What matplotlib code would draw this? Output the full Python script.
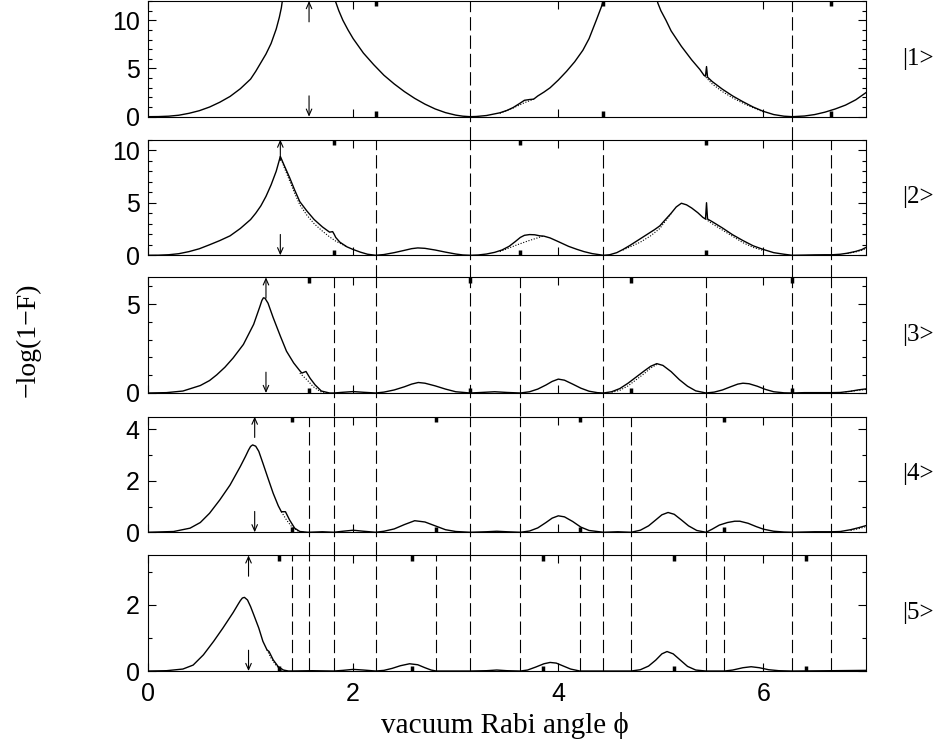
import matplotlib
matplotlib.use("Agg")
from matplotlib import pyplot as plt
from matplotlib.ticker import MultipleLocator

nan = float("nan")

# --- data ------------------------------------------------------------------
states = ["|1>", "|2>", "|3>", "|4>", "|5>"]
ylims = [12, 11, 6.5, 4.5, 3.5]
ymajor = [5, 5, 5, 2, 2]

phi_1 = [0.0, 0.1, 0.2, 0.3, 0.4, 0.5, 0.6, 0.7, 0.8, 0.9, 1.0, 1.05, 1.1, 1.15, 1.2,
         1.25, 1.28, 1.3, 1.32, nan,
         1.81, 1.83, 1.86, 1.9, 1.95, 2.0, 2.1, 2.2, 2.3, 2.4, 2.5, 2.6, 2.7, 2.8,
         2.9, 3.0, 3.07, 3.14, 3.2, 3.3, 3.43, 3.5, 3.56, 3.62, 3.67, 3.72, 3.76,
         3.8, 3.86, 3.92, 4.0, 4.08, 4.16, 4.24, 4.3, 4.37, 4.42, 4.46, nan,
         4.95, 4.97, 5.0, 5.05, 5.1, 5.2, 5.3, 5.38, 5.42, 5.435, 5.445, 5.455, 5.5,
         5.6, 5.7, 5.8, 5.9, 6.0, 6.1, 6.2, 6.28, 6.4, 6.5, 6.6, 6.7, 6.8, 6.9, 7.0]
fid_1 = [0.0, 0.01, 0.05, 0.15, 0.35, 0.62, 1.0, 1.5, 2.1, 2.9, 3.9, 4.7, 5.6, 6.5, 7.6,
         9.1, 10.3, 11.3, 12.8, nan,
         12.8, 11.9, 11.0, 10.0, 9.0, 8.1, 6.6, 5.4, 4.3, 3.4, 2.6, 1.9, 1.3, 0.8,
         0.42, 0.16, 0.05, 0.0, 0.02, 0.12, 0.4, 0.65, 0.95, 1.35, 1.7, 1.78, 1.82,
         2.15, 2.55, 3.0, 3.8, 4.7, 5.7, 6.9, 8.1, 10.0, 11.4, 12.8, nan,
         12.8, 11.8, 11.0, 10.0, 8.9, 7.3, 5.9, 4.9, 4.3, 4.2, 5.2, 4.1, 3.65,
         2.85, 2.15, 1.55, 1.0, 0.55, 0.22, 0.05, 0.0, 0.07, 0.22, 0.47, 0.8, 1.2, 1.75, 2.5]
dphi_1 = [3.43, 3.56, 3.62, 3.67, 3.72, 3.76, nan,
          5.42, 5.5, 5.6, 5.7, 5.8, 5.9, 6.0]
dfid_1 = [0.35, 0.9, 1.2, 1.45, 1.65, 1.82, nan,
          4.3, 3.4, 2.6, 1.95, 1.4, 0.92, 0.5]

phi_2 = [0.0, 0.1, 0.2, 0.3, 0.4, 0.5, 0.6, 0.7, 0.8, 0.9, 1.0, 1.05, 1.1, 1.15, 1.2,
         1.25, 1.29, 1.33, 1.38, 1.43, 1.48, 1.55, 1.62, 1.7, 1.77, 1.8, 1.815, 1.83,
         1.87, 1.94, 2.0, 2.07, 2.14, 2.22, 2.3, 2.4, 2.5, 2.57, 2.63, 2.7, 2.8, 2.9,
         3.0, 3.07, 3.14, 3.22, 3.3, 3.38, 3.45, 3.52, 3.58, 3.63, 3.67, 3.72, 3.77,
         3.82, 3.86, 3.92, 4.0, 4.1, 4.18, 4.25, 4.33, 4.44, 4.5, 4.57, 4.63, 4.7,
         4.78, 4.86, 4.94, 4.99, 5.04, 5.1, 5.15, 5.2, 5.25, 5.3, 5.36, 5.41, 5.435,
         5.445, 5.455, 5.5, 5.6, 5.7, 5.8, 5.9, 6.0, 6.1, 6.2, 6.28, 6.4, 6.5, 6.6,
         6.67, 6.75, 6.82, 6.9, 6.96, 7.0]
fid_2 = [0.0, 0.01, 0.05, 0.15, 0.35, 0.62, 1.0, 1.4, 1.85, 2.55, 3.4, 4.0, 4.7, 5.6, 6.7,
         8.0, 9.4, 8.5, 7.4, 6.2, 5.1, 4.2, 3.4, 2.7, 2.2, 2.25, 2.0, 1.7,
         1.25, 0.8, 0.55, 0.3, 0.1, 0.0, 0.07, 0.25, 0.47, 0.63, 0.7, 0.66, 0.5, 0.3,
         0.12, 0.03, 0.0, 0.03, 0.12, 0.28, 0.5, 0.85, 1.3, 1.7, 1.9, 1.97, 1.95,
         1.85, 1.82, 1.65, 1.3, 0.85, 0.57, 0.35, 0.16, 0.0, 0.05, 0.25, 0.55, 0.95,
         1.45, 1.95, 2.45, 2.8, 3.35, 4.0, 4.6, 4.95, 4.8, 4.5, 4.05, 3.6, 3.45,
         5.0, 3.45, 3.2, 2.6, 1.95, 1.4, 0.9, 0.55, 0.25, 0.1, 0.0, 0.02, 0.04, 0.05,
         0.05, 0.1, 0.2, 0.37, 0.55, 0.75]
dphi_2 = [1.29, 1.33, 1.38, 1.43, 1.48, 1.55, 1.62, 1.7, 1.77, 1.83, 1.9, 1.94, nan,
          3.43, 3.52, 3.6, 3.7, 3.78, 3.85, nan,
          4.63, 4.7, 4.8, 4.9, 4.99, 5.04, 5.1, nan,
          5.435, 5.5, 5.6, 5.7, 5.8, 5.9, 6.0, nan,
          6.82, 6.9, 6.96, 7.0]
dfid_2 = [9.4, 8.3, 7.1, 5.9, 4.8, 3.8, 3.0, 2.3, 1.75, 1.35, 1.0, 0.8, nan,
          0.35, 0.7, 1.0, 1.35, 1.6, 1.82, nan,
          0.5, 0.8, 1.25, 1.85, 2.55, 3.2, 3.95, nan,
          3.45, 3.0, 2.4, 1.8, 1.2, 0.75, 0.45, nan,
          0.18, 0.32, 0.48, 0.65]

phi_3 = [0.0, 0.18, 0.34, 0.51, 0.6, 0.67, 0.75, 0.83, 0.93, 1.03, 1.09, 1.11, 1.125,
         1.14, 1.17, 1.22, 1.29, 1.35, 1.42, 1.48, 1.5, 1.54, 1.58, 1.63, 1.69, 1.77,
         1.81, 1.9, 2.0, 2.1, 2.22, 2.3, 2.4, 2.5, 2.57, 2.635, 2.7, 2.8, 2.9, 3.0,
         3.14, 3.25, 3.38, 3.5, 3.63, 3.72, 3.8, 3.88, 3.94, 4.0, 4.06, 4.14, 4.22,
         4.3, 4.38, 4.44, 4.52, 4.6, 4.68, 4.76, 4.84, 4.9, 4.96, 5.02, 5.1, 5.18,
         5.26, 5.34, 5.44, 5.52, 5.6, 5.68, 5.75, 5.8, 5.86, 5.94, 6.02, 6.1, 6.2,
         6.28, 6.4, 6.55, 6.67, 6.75, 6.85, 6.93, 7.0]
fid_3 = [0.0, 0.02, 0.11, 0.42, 0.7, 1.02, 1.45, 1.97, 2.73, 3.86, 4.85, 5.2, 5.35,
         5.33, 5.05, 4.24, 3.2, 2.35, 1.69, 1.25, 1.12, 1.21, 0.83, 0.45, 0.11, 0.0,
         0.0, 0.04, 0.08, 0.04, 0.0, 0.05, 0.17, 0.35, 0.5, 0.59, 0.55, 0.4, 0.22, 0.07,
         0.0, 0.03, 0.07, 0.03, 0.0, 0.07, 0.22, 0.45, 0.65, 0.78, 0.72, 0.5, 0.27,
         0.1, 0.02, 0.0, 0.07, 0.25, 0.55, 0.9, 1.25, 1.5, 1.65, 1.55, 1.2, 0.75,
         0.38, 0.12, 0.0, 0.05, 0.17, 0.35, 0.5, 0.55, 0.52, 0.38, 0.2, 0.07, 0.01,
         0.0, 0.02, 0.02, 0.02, 0.03, 0.1, 0.18, 0.23]
dphi_3 = [1.48, 1.55, 1.61, 1.68, 1.75, nan,
          4.52, 4.6, 4.68, 4.76, 4.84, 4.9, 4.96, nan,
          6.8, 6.9, 7.0]
dfid_3 = [1.12, 0.74, 0.36, 0.08, 0.0, nan,
          0.04, 0.15, 0.4, 0.75, 1.1, 1.4, 1.6, nan,
          0.06, 0.13, 0.2]

phi_4 = [0.0, 0.25, 0.41, 0.51, 0.6, 0.7, 0.8, 0.9, 0.95, 0.98, 1.0, 1.02, 1.05, 1.08,
         1.12, 1.17, 1.22, 1.27, 1.3, 1.34, 1.38, 1.43, 1.48, 1.56, 1.7, 1.81, 1.9,
         2.0, 2.1, 2.22, 2.3, 2.4, 2.5, 2.6, 2.7, 2.8, 2.9, 3.0, 3.14, 3.3, 3.4, 3.5,
         3.63, 3.72, 3.8, 3.88, 3.94, 4.0, 4.06, 4.14, 4.22, 4.3, 4.44, 4.58, 4.71,
         4.8, 4.88, 4.95, 5.01, 5.07, 5.13, 5.2, 5.27, 5.35, 5.44, 5.5, 5.57, 5.65,
         5.72, 5.77, 5.85, 5.93, 6.0, 6.1, 6.2, 6.28, 6.5, 6.67, 6.75, 6.85, 6.93, 7.0]
fid_4 = [0.0, 0.03, 0.16, 0.38, 0.74, 1.26, 1.84, 2.56, 2.95, 3.2, 3.34, 3.4, 3.35, 3.15,
         2.69, 2.1, 1.52, 1.03, 0.8, 0.8, 0.48, 0.16, 0.03, 0.0, 0.02, 0.0, 0.04,
         0.08, 0.04, 0.0, 0.04, 0.13, 0.3, 0.45, 0.4, 0.25, 0.1, 0.03, 0.0, 0.02, 0.04, 0.02,
         0.0, 0.05, 0.17, 0.38, 0.55, 0.64, 0.6, 0.42, 0.2, 0.07, 0.0, 0.02, 0.0,
         0.08, 0.25, 0.48, 0.68, 0.77, 0.7, 0.48, 0.25, 0.07, 0.0, 0.12, 0.28, 0.38,
         0.43, 0.43, 0.35, 0.22, 0.12, 0.04, 0.01, 0.0, 0.02, 0.02, 0.03, 0.1, 0.18, 0.26]
dphi_4 = [1.3, 1.35, 1.4, 1.47, 1.52, nan, 6.85, 6.93, 7.0]
dfid_4 = [0.8, 0.48, 0.22, 0.03, 0.0, nan, 0.07, 0.14, 0.22]

phi_5 = [0.0, 0.18, 0.34, 0.44, 0.54, 0.64, 0.73, 0.83, 0.88, 0.9, 0.92, 0.94, 0.97,
         1.0, 1.03, 1.08, 1.12, 1.16, 1.18, 1.22, 1.27, 1.32, 1.37, 1.6, 1.81, 1.9,
         2.0, 2.1, 2.22, 2.3, 2.38, 2.46, 2.55, 2.63, 2.7, 2.76, 2.81, 3.14, 3.3,
         3.4, 3.5, 3.63, 3.7, 3.78, 3.86, 3.92, 3.98, 4.05, 4.12, 4.21, 4.71, 4.8,
         4.88, 4.95, 5.01, 5.06, 5.12, 5.19, 5.26, 5.34, 5.44, 5.62, 5.7, 5.8, 5.88,
         5.96, 6.05, 6.15, 6.28, 6.67, 7.0]
fid_5 = [0.0, 0.01, 0.06, 0.18, 0.49, 0.9, 1.3, 1.77, 2.03, 2.13, 2.21, 2.23, 2.15,
         1.95, 1.71, 1.3, 0.9, 0.64, 0.59, 0.34, 0.13, 0.03, 0.0, 0.01, 0.0, 0.02,
         0.05, 0.03, 0.0, 0.02, 0.08, 0.16, 0.22, 0.19, 0.1, 0.03, 0.0, 0.0, 0.01,
         0.03, 0.01, 0.0, 0.03, 0.12, 0.22, 0.26, 0.24, 0.15, 0.06, 0.0, 0.0, 0.04,
         0.15, 0.33, 0.52, 0.59, 0.52, 0.33, 0.14, 0.03, 0.0, 0.0, 0.03, 0.1, 0.13,
         0.1, 0.04, 0.01, 0.0, 0.01, 0.02]
dphi_5 = [1.16, 1.2, 1.25, 1.3, 1.35]
dfid_5 = [0.64, 0.39, 0.16, 0.03, 0.0]

phi = [phi_1, phi_2, phi_3, phi_4, phi_5]
fid = [fid_1, fid_2, fid_3, fid_4, fid_5]
dphi = [dphi_1, dphi_2, dphi_3, dphi_4, dphi_5]
dfid = [dfid_1, dfid_2, dfid_3, dfid_4, dfid_5]

dash_x = [
    [3.14, 6.28],
    [2.22, 3.14, 4.44, 6.28, 6.66],
    [1.81, 2.22, 3.14, 3.63, 4.44, 5.44, 6.28, 6.66],
    [1.57, 1.81, 2.22, 3.14, 3.63, 4.44, 4.71, 5.44, 6.28, 6.66],
    [1.40, 1.57, 1.81, 2.22, 2.81, 3.14, 3.63, 4.21, 4.44, 4.71, 5.44, 5.62, 6.28, 6.66],
]
mark_x = [
    [2.22, 4.44, 6.66],
    [1.81, 3.63, 5.44],
    [1.57, 3.14, 4.71, 6.28],
    [1.40, 2.81, 4.21, 5.62],
    [1.28, 2.57, 3.85, 5.13, 6.41],
]
arrow_x = [1.57, 1.29, 1.15, 1.04, 0.98]

# --- layout -----------------------------------------------------------------
bottoms = [0.8436, 0.6578, 0.4732, 0.2865, 0.1005]
height = 0.155
left, width = 0.1558, 0.7558
gap = 0.2

plt.rcParams["font.family"] = ["Liberation Sans", "DejaVu Sans"]
fig = plt.figure(figsize=(9.5, 7.46), dpi=100)

for i in range(5):
    ax = fig.add_axes([left, bottoms[i], width, height])
    ax.set_xlim(0, 7)
    ax.set_ylim(0, ylims[i])

    ax.plot(dphi[i], dfid[i], color="black", lw=0.8, ls=(0, (1, 1.5)))
    ax.plot(phi[i], fid[i], color="black", lw=1.0)

    for xd in dash_x[i]:
        ymin = -gap if i < 4 else 0
        ax.axvline(xd, ymin=ymin, ymax=1, color="black", lw=0.8,
                   ls=(0, (12, 4.5)), clip_on=False)

    trans = ax.get_xaxis_transform()
    ax.vlines(mark_x[i], 0, 0.045, transform=trans, color="black", lw=2.5)
    ax.vlines(mark_x[i], 0.955, 1, transform=trans, color="black", lw=2.5)

    style = "->,head_length=0.5,head_width=0.22"
    ax.annotate("", xy=(arrow_x[i], 1), xytext=(arrow_x[i], 0.82), xycoords=trans,
                arrowprops=dict(arrowstyle=style, lw=0.8, color="black",
                                shrinkA=0, shrinkB=0, mutation_scale=9))
    ax.annotate("", xy=(arrow_x[i], 0), xytext=(arrow_x[i], 0.18), xycoords=trans,
                arrowprops=dict(arrowstyle=style, lw=0.8, color="black",
                                shrinkA=0, shrinkB=0, mutation_scale=9))

    ax.xaxis.set_major_locator(MultipleLocator(2))
    ax.yaxis.set_major_locator(MultipleLocator(ymajor[i]))
    ax.yaxis.set_minor_locator(MultipleLocator(1))
    ax.tick_params(which="both", direction="in", top=True, right=True,
                   labelsize=18, width=0.8, pad=6)
    ax.tick_params(which="major", length=6)
    ax.tick_params(which="minor", length=3)
    if i < 4:
        ax.tick_params(labelbottom=False)
    else:
        ax.tick_params(axis="x", pad=8)

    ax.text(1.05, 0.5, states[i], transform=ax.transAxes, ha="left",
            va="center", fontsize=18, family="Liberation Serif")

fig.text(0.029, 0.544, "\u2212log(1\u2212F)", rotation=90, ha="center",
         va="center", fontsize=20, family="Liberation Serif")
fig.text(0.531, 0.028, "vacuum Rabi angle \u03d5", ha="center", va="center",
         fontsize=21, family=["Liberation Serif", "DejaVu Serif"])

fig.savefig("out.png", dpi=100)
